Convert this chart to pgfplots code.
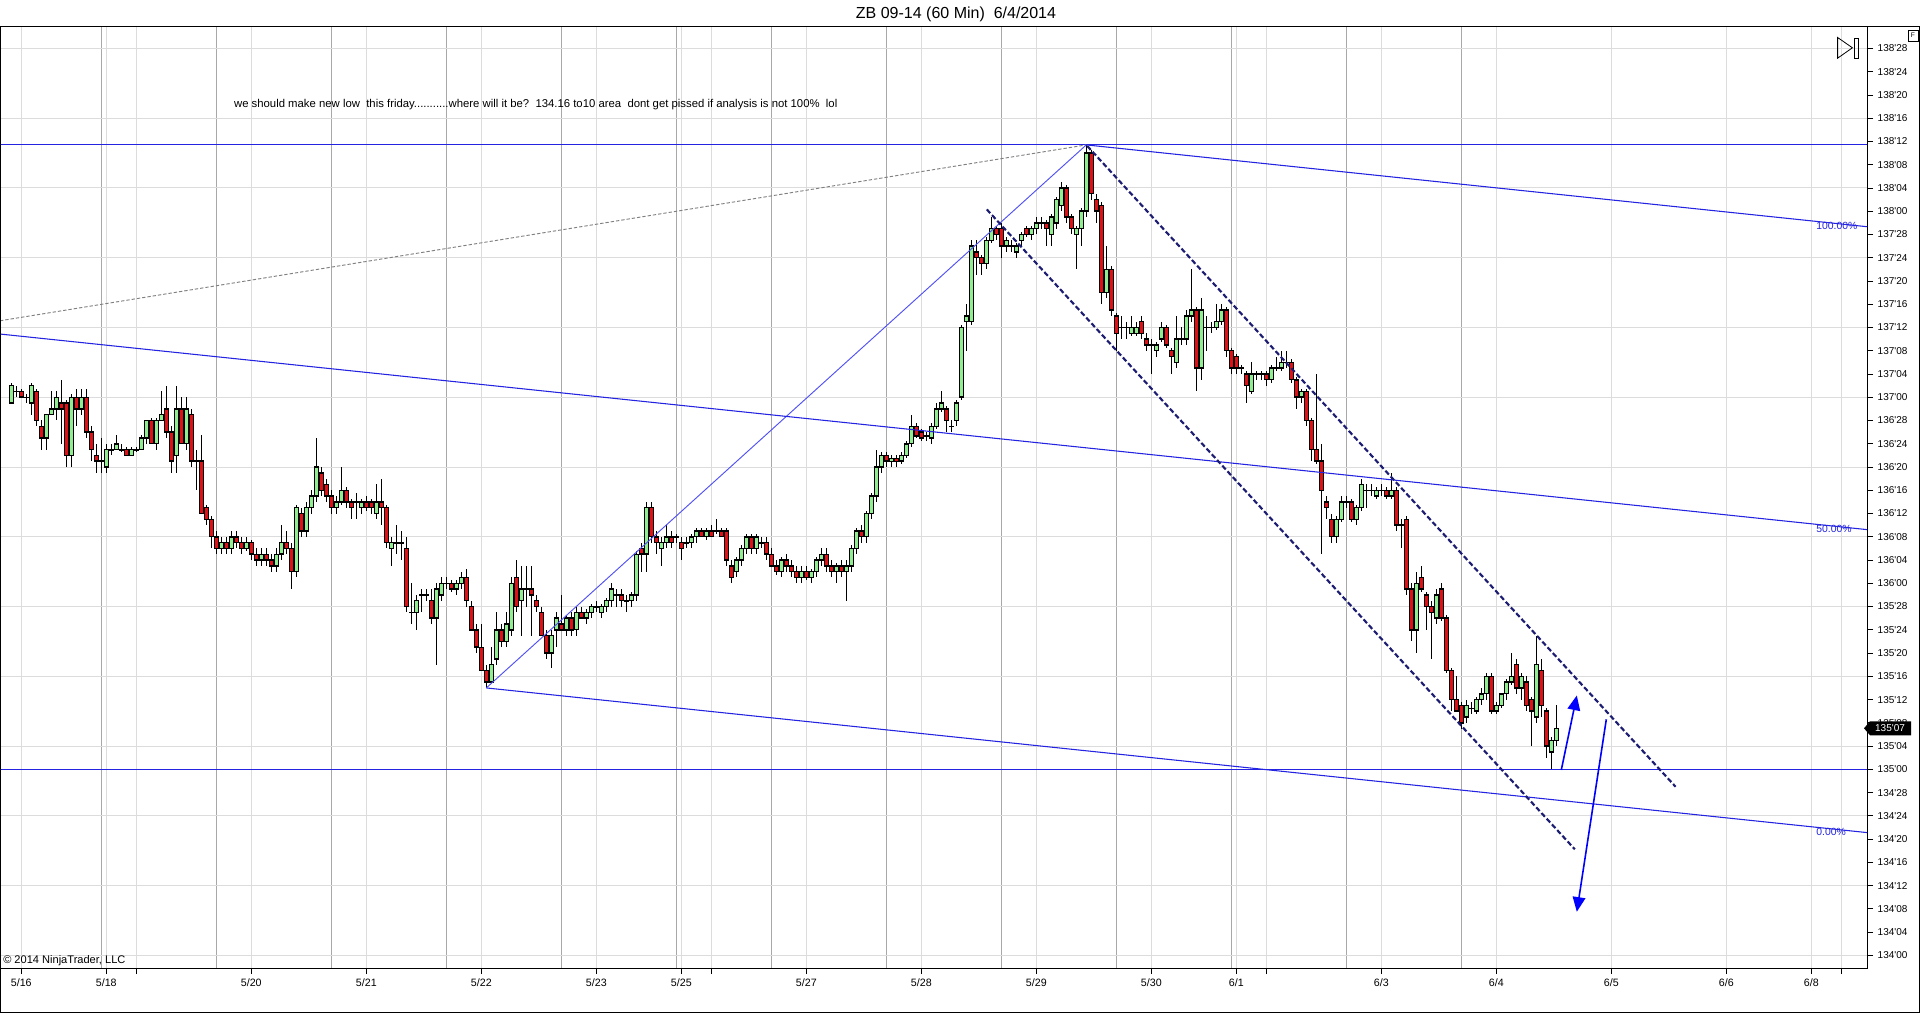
\documentclass[border=0pt]{standalone}
\usepackage{pgfplots}
\pgfplotsset{compat=1.18}
\usepackage{pgfplotstable}
\usepackage{fontspec}
\setmainfont{Liberation Sans}
\usetikzlibrary{arrows.meta}
\definecolor{upc}{RGB}{144,238,144}
\definecolor{dnc}{RGB}{222,18,22}
\definecolor{lblue}{RGB}{35,35,225}
\definecolor{tblue}{RGB}{80,80,245}
\definecolor{navyd}{RGB}{28,28,115}
\definecolor{gridl}{RGB}{220,220,220}
\definecolor{gridd}{RGB}{168,168,168}
\newcommand\q{\textquotesingle}

% prices in 32nds above 134'00; k = hourly bar index
\pgfplotstableread{
k o h l c
0 95 98.5 95 98
1 97 98 96 97
2 97 97.5 96 96
3 96 96.5 95 96
4 95 98.5 93 98
5 97 97.5 91 92
6 91 92 87 89
7 89 93 87 93
8 93 97 93 94
9 94 97 92 96
10 95 99 88 94
11 95 95.5 84 86
12 86 96.5 84 96
13 96 97.5 91 94
14 94 97.5 93 96
15 96 97.5 89 90
16 90 91 85 87
17 86 88 83 85
18 85 89 83 85
19 84 88 83 87
20 87 88 86 87
21 87 89.5 87 88
22 87 88 86.5 87
23 87 87.5 86 86
24 86 87.5 86 87
25 87 87.5 86.5 87
26 87 89.5 87 89
27 89 92 88 92
28 92 92.5 88 88
29 88 92.5 87 92
30 92 97 92 93
31 94 98 89 90
32 90 91 83 85
33 86 98 83 94
34 94 96 88 88
35 88 96 87 94
36 93 94 84 85
37 85 87 80 85
38 85 89.5 76 76
39 77 77.5 74 75
40 75 75.5 70 72
41 72 73 69 70
42 70 72 69 71
43 71 72 69 70
44 70 73 69 72
45 72 73 70 71
46 71 72 69 70
47 70 72 69.5 71
48 71 71.5 68 69
49 69 70 67 68
50 68 70 67 69
51 69 70 67 68
52 68 69 66 67
53 67 70 66 69
54 69 74 68 71
55 71 73 69 70
56 70 71 63 66
57 66 77.5 65 77
58 76 77 72 73
59 73 78 72 77
60 77 80 76 79
61 79 89 78 84
62 83 84 79 80
63 81 82 78 79
64 79 80 76 77
65 77 79 76 78
66 78 84 77.5 80
67 80 80.5 77 78
68 78 78.5 75 77
69 78 79.5 75 78
70 77 78.5 76 78
71 78 79 76.5 77
72 78 78.5 76 77
73 76 81 75 78
74 78 82 74 77
75 77 77.5 70 71
76 70 72 67 71
77 71 74 69 71
78 71 73 68 71
79 70 72 59 60
80 59 64 57 59
81 59 62 56 61
82 62 63 59 62
83 62 63 61 62
84 61 63 57 58
85 58 64 50 63
86 62 65 61 64
87 64 65 63 64
88 64 64.5 62.5 63
89 63 64.5 62 64
90 64 66 63 65
91 65 66.5 60 61
92 60 61 56 56
93 56 57 52 53
94 53 57 49 49
95 49 50 46 47
96 47 53 47 50
97 51 59 50 56
98 56 57 53 54
99 54 59 53 57
100 56 65 55 64
101 65 68 59 60
102 61 67 55 63
103 63 67 60 63
104 63 67 55 62
105 61 62 59 60
106 59 60 55 55
107 55 56 51 52
108 52 56 49.5 55
109 56 59 53 58
110 57 62 56 56
111 56 58.5 55 58
112 58 59 55 56
113 56 60 55 59
114 59 60 58 58
115 58 59.5 57 59
116 59 60.5 58 60
117 60 61 59 60
118 59 60.5 58 60
119 60 61.5 59 61
120 61 64 60 63
121 62 63 60 62
122 62 63 60 61
123 61 62 59 61
124 61 62.5 60 62
125 62 69.5 61 69
126 70 71 66 69
127 69 78 66 77
128 77 78 71 72
129 72 73 69 71
130 70 72 67 71
131 71 74 70 72
132 72 73 70 71
133 72 72.5 71 72
134 71 72 68 70
135 71 72 70 71
136 71 72.5 70 72
137 72 73.5 71 73
138 73 73.5 72 72
139 72 73.5 71.5 73
140 73 74 72 72
141 73 75 72.5 73
142 73 73.5 72 72
143 73 73.5 67 68
144 67 68 64 65
145 66 68.5 65 68
146 68 70.5 67 70
147 70 72.5 69 72
148 72 72.5 69 70
149 70 72.5 69 72
150 71 72 70 71
151 71 72 68 69
152 69 70 67 67
153 67 68 65.5 66
154 66 68.5 65 68
155 68 69 66 67
156 67 68 65 66
157 66 67 64 65
158 65 67 64 66
159 66 67 64.5 65
160 65 66.5 64 66
161 66 68.5 65 68
162 68 70 67 69
163 69 70 66 67
164 67 68 65 66
165 66 67.5 64 67
166 67 68 65 66
167 66 68 61 67
168 67 70.5 66 70
169 70 73.5 69 73
170 73 74 71 72
171 72 76.5 71 76
172 76 79.5 75 79
173 79 87 78 84
174 84 86.5 83 86
175 86 86.5 84 85
176 85 86 84 85.5
177 85.5 86 84 85
178 85 86.5 84.5 86
179 86 88.5 85.5 88
180 88 93 87.5 91
181 91 91.5 89 89.3
182 90 90.5 88.5 89
183 89.3 90 88.5 89.3
184 89 91.5 88 91
185 91 95 90.5 94
186 94 97 93.5 95
187 94 94.5 90 92
188 91 92 90 91
189 92 95.5 91 95
190 96 108.5 95.5 108
191 109 112 104 110
192 109 123 108.5 122
193 121 123 117 120
194 120 120.5 117 119
195 119 123.5 118 123
196 123 127 122.5 125
197 125 125.5 123 124
198 125 126 120 122
199 122 123.5 121 123
200 122 123 121 122
201 121 122.5 120 122
202 123 124.5 122 124
203 125 125.5 123.5 124
204 124 125.5 123 125
205 125 127 124 126
206 126 127 125 126
207 126 126.5 122 125
208 124 127.5 122 127
209 126 130.5 125 130
210 129 133 128 132
211 132 132.5 126 127
212 127 127.5 124 125
213 124 125.5 118 125
214 125 128.5 122 128
215 128 139.4 127 138
216 138 138.5 130 131
217 130 131 126 128
218 129 129.5 112 114
219 114 122 113 118
220 118 118.5 110 111
221 110 110.5 104 107
222 108 110 106 108
223 108 109 106 108
224 107 110 106.5 108
225 107 109 106.5 108
226 109 110 106 107
227 106 107 104 105
228 105 106 100 105
229 104 105.5 103 105
230 106 109 105.5 108
231 108 108.5 104.5 105
232 104 104.5 100 103
233 102 110 101 106
234 106 108 105 106
235 106 111 105 110
236 110 118 109 111
237 111 111.5 97 101
238 101 113 99 111
239 108 110 104 108
240 108 109 107 108
241 108 112 107.5 109
242 109 112 108.5 111
243 111 111.5 103 104
244 104 104.5 100 101
245 103 103.5 100 101
246 101 101.5 100 101
247 100 100.5 95 98
248 97 102 96.5 100
249 100 100.5 99 100
250 100 100.5 99 100
251 100 100.5 98 99
252 99 101.5 98.5 101
253 101 103 100.5 101
254 101 104 100.5 102
255 102 104 101 102
256 102 102.5 98.5 99
257 99 99.5 94 96
258 96 97.5 95 97
259 97 97.5 91 92
260 92 92.5 85 87
261 87 100 84.5 85
262 85 88 69 80
263 78 79 75 77
264 75 76 71 72
265 72 75.5 71 75
266 75 79 74.5 78
267 78 79 77 78
268 78 78.5 74.5 75
269 75 77.5 74 77
270 77 82 76.5 81
271 80 81 77 80
272 80 81 79 80
273 79 80.5 78.5 80
274 80 81 79 80
275 80 80.5 78.5 79
276 79 83 78.5 80
277 80 80.5 73 74
278 74 75 70 74
279 75 75.5 62 63
280 63 64 54 56
281 56 66 52 64
282 65 67 62.5 63
283 62 62.5 56 60
284 60 61 51 59
285 58 63 57 62
286 63 64 57.5 58
287 58 58.5 48.5 49
288 49 49.5 42 44
289 44 48 42.5 42
290 43 43.5 39 40
291 41 44 40 43
292 42.5 43.5 41.5 42.5
293 42 44.5 41.5 44
294 44 46 43 45
295 45 48.5 44 48
296 48 48.5 41.5 42
297 42 43.5 41.5 43
298 43 45 42.5 45
299 45 47.5 44 47
300 47 52 46.5 48
301 50 51 45 46
302 46 48.5 44 48
303 47 48 42 43
304 44 44.5 36 42
305 41 55 40 50
306 49 51 41 43
307 42 42.5 34 36
308 35 37.5 32 37
309 37 43 36 39
}\candles

\begin{document}
\begin{tikzpicture}[x=0.75pt,y=0.75pt]
\useasboundingbox (0,0) rectangle (1920,1014);
\fill[white] (0,0) rectangle (1920,1014);
\begin{axis}[
  at={(0pt,34.5pt)}, anchor=south west,
  scale only axis, width=1400.25pt, height=705.75pt,
  xmin=-2.26, xmax=371.14, ymin=-2.17, ymax=159.68,
  axis line style={black, line width=0.75pt},
  tick align=outside, major tick length=4.5pt,
  tick style={black, line width=0.6pt},
  xtick pos=left, ytick pos=right, yticklabel pos=right,
  xtick={2,19,25,48,71,94,117,134,140,159,182,205,228,245,251,274,297,320,343,360,366},
  xticklabels={5/16,5/18,,5/20,5/21,5/22,5/23,5/25,,5/27,5/28,5/29,5/30,6/1,,6/3,6/4,6/5,6/6,6/8,},
  ytick={0,4,...,156},
  yticklabels={134\q00,134\q04,134\q08,134\q12,134\q16,134\q20,134\q24,134\q28,
    135\q00,135\q04,135\q08,135\q12,135\q16,135\q20,135\q24,135\q28,
    136\q00,136\q04,136\q08,136\q12,136\q16,136\q20,136\q24,136\q28,
    137\q00,137\q04,137\q08,137\q12,137\q16,137\q20,137\q24,137\q28,
    138\q00,138\q04,138\q08,138\q12,138\q16,138\q20,138\q24,138\q28},
  xticklabel style={font=\fontsize{8}{9}\selectfont},
  yticklabel style={font=\fontsize{7.5}{9}\selectfont},
  xmajorgrids=true, ymajorgrids=false,
  grid style={gridl, line width=0.75pt},
  extra x ticks={18,41,64,87,110,133,152,175,198,221,244,267,290},
  extra x tick labels={},
  extra x tick style={grid=major, major grid style={gridd, line width=0.75pt}, major tick length=0pt},
  extra y ticks={0,12,...,156},
  extra y tick labels={},
  extra y tick style={grid=major, major grid style={gridl, line width=0.75pt}, major tick length=0pt},
]
% wicks
\addplot[draw=none, mark=none, forget plot,
  error bars/.cd, y dir=both, y explicit, error mark=none,
  error bar style={draw=black, solid, line width=0.8pt}]
  table[x=k, y expr={(\thisrow{h}+\thisrow{l})/2}, y error expr={(\thisrow{h}-\thisrow{l})/2}] {\candles};
% body outlines
\addplot[draw=none, mark=none, forget plot,
  error bars/.cd, y dir=both, y explicit, error mark=none,
  error bar style={draw=black, solid, line width=3.3pt}]
  table[x=k, y expr={(\thisrow{o}+\thisrow{c})/2}, y error expr={abs(\thisrow{c}-\thisrow{o})/2+0.12}] {\candles};
% up bodies
\addplot[draw=none, mark=none, forget plot, restrict y to domain=-50:500,
  error bars/.cd, y dir=both, y explicit, error mark=none,
  error bar style={draw=upc, solid, line width=2.0pt}]
  table[x=k, y expr={ifthenelse(\thisrow{c}>\thisrow{o},(\thisrow{o}+\thisrow{c})/2,-1000)}, y error expr={max(abs(\thisrow{c}-\thisrow{o})/2-0.13,0)}] {\candles};
% down bodies
\addplot[draw=none, mark=none, forget plot, restrict y to domain=-50:500,
  error bars/.cd, y dir=both, y explicit, error mark=none,
  error bar style={draw=dnc, solid, line width=2.0pt}]
  table[x=k, y expr={ifthenelse(\thisrow{c}<\thisrow{o},(\thisrow{o}+\thisrow{c})/2,-1000)}, y error expr={max(abs(\thisrow{c}-\thisrow{o})/2-0.13,0)}] {\candles};

% horizontal lines
\addplot[lblue, line width=0.75pt] coordinates {(-2.26,139.4) (371.14,139.4)};
\addplot[lblue, line width=0.75pt] coordinates {(-2.26,32) (371.14,32)};
% grey dotted line
\addplot[gray, line width=0.7pt, dash pattern=on 2.5pt off 1.5pt] coordinates {(-2.26,109.15) (215,139.4)};
% A-B line
\addplot[tblue, line width=0.7pt] coordinates {(95,46) (215,139.4)};
% channel lines
\addplot[lblue, line width=0.8pt] coordinates {(215,139.4) (371.14,125.33)};
\addplot[lblue, line width=0.8pt] coordinates {(-2.26,106.87) (371.14,73.23)};
\addplot[lblue, line width=0.8pt] coordinates {(95,46) (371.14,21.12)};
% dashed channel
\addplot[navyd, line width=1.6pt, dash pattern=on 3.8pt off 2pt] coordinates {(215.2,139.2) (332.86,29.0)};
\addplot[navyd, line width=1.6pt, dash pattern=on 3.8pt off 2pt] coordinates {(195.1,128.3) (312.7,18.25)};
% arrows
\addplot[blue, line width=1.2pt, -{Triangle[length=11pt,width=9.5pt]}] coordinates {(310,31.9) (313.1,44.7)};
\addplot[blue, line width=1.2pt, -{Triangle[length=11pt,width=9.5pt]}] coordinates {(319,40.6) (313.1,7.5)};

\node[anchor=west, text=lblue, font=\fontsize{7.8}{9}\selectfont, inner sep=0pt] at (axis cs:360.96,125.4) {100.00\%};
\node[anchor=west, text=lblue, font=\fontsize{7.8}{9}\selectfont, inner sep=0pt] at (axis cs:360.96,73.3) {50.00\%};
\node[anchor=west, text=lblue, font=\fontsize{7.8}{9}\selectfont, inner sep=0pt] at (axis cs:360.96,21.26) {0.00\%};
\node[anchor=west, font=\fontsize{8.5}{10}\selectfont, inner sep=0pt] at (axis cs:44.5,146.4)
  {we should make new low\ \ this friday...........where will it be?\ \ 134.16 to10 area\ \ dont get pissed if analysis is not 100\%\ \ lol};
\end{axis}

% page frame
\draw[black, line width=0.75pt] (0,987) -- (1920,987);
\draw[black, line width=0.75pt] (1919.4,987) -- (1919.4,1.3);
\draw[black, line width=0.75pt] (0,1.3) -- (1920,1.3);
\draw[black, line width=0.75pt] (0.5,987) -- (0.5,1.3);
% title
\node[font=\fontsize{12}{14}\selectfont] at (956,1000) {ZB 09-14 (60 Min)\ \ 6/4/2014};
% copyright
\node[anchor=west, font=\fontsize{8.3}{10}\selectfont, inner sep=0pt] at (3,53) {© 2014 NinjaTrader, LLC};
% last price box
\fill[black] (1864,285.7) -- (1870,292.7) -- (1911,292.7) -- (1911,278.7) -- (1870,278.7) -- cycle;
\node[text=white, font=\fontsize{7.5}{9}\selectfont, inner sep=0pt] at (1890,285.7) {135\q07};
% F box
\draw[black, line width=0.5pt] (1908,973) rectangle (1918,984);
\node[font=\fontsize{5}{6}\selectfont, inner sep=0pt] at (1913,978.5) {F};
% play-end icon
\draw[black, line width=0.6pt] (1837.6,976.5) -- (1837.6,955.8) -- (1852.4,966.2) -- cycle;
\draw[black, line width=0.6pt] (1854.5,976) rectangle (1858,956);
\end{tikzpicture}
\end{document}
